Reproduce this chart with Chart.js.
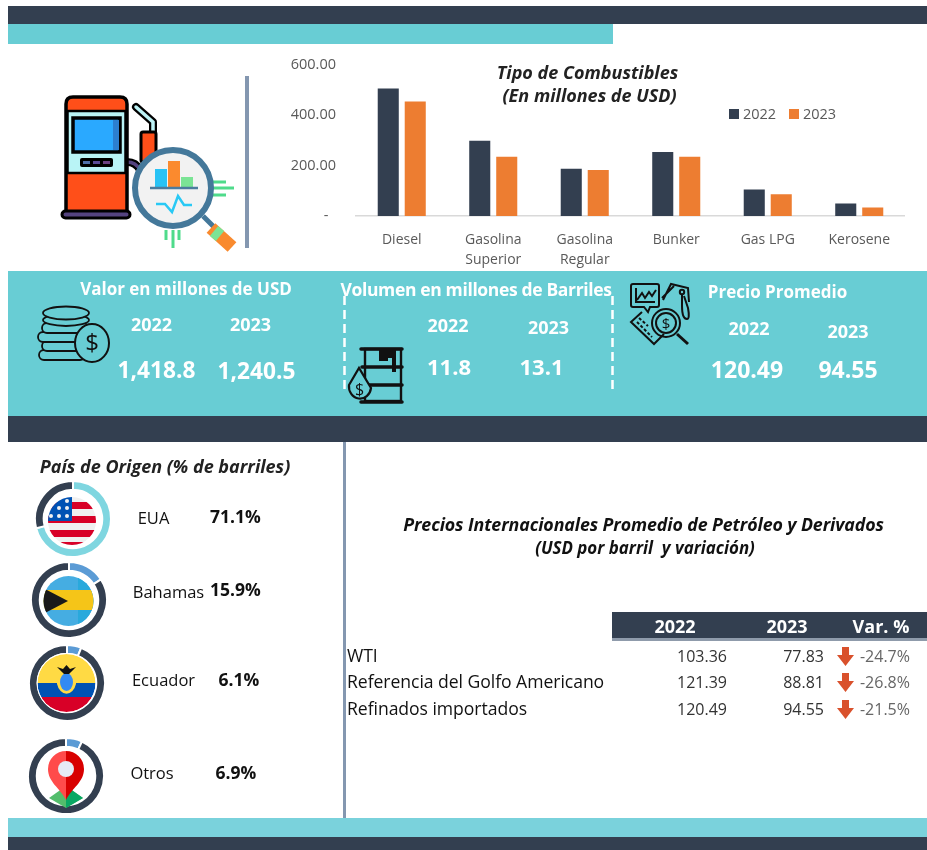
<!DOCTYPE html>
<html lang="es">
<head>
<meta charset="utf-8">
<title>Tipo de Combustibles</title>
<script src="https://cdn.jsdelivr.net/npm/chart.js@4"></script>
<style>
    html, body { margin: 0; padding: 0; background: #fff; }
    #page { position: relative; width: 927px; height: 850px; overflow: hidden; font-family: "Open Sans", "Noto Sans", sans-serif; }
    .box { position: absolute; }
    .txt { position: absolute; white-space: pre; transform: translate(-50%, -50%); line-height: 1; }
    .rt { transform: translate(-100%, -50%); }
    .lt { transform: translate(0, -50%); }
    canvas { position: absolute; }
    svg { position: absolute; left: 0; top: 0; }
</style>
</head>
<body>
<div id="page">
    <div class="box" style="left:8px;top:6px;width:919px;height:18px;background:#333f50"></div>
    <div class="box" style="left:8px;top:24px;width:605px;height:20px;background:#68cdd4"></div>
    <div class="box" style="left:245px;top:76px;width:4px;height:172px;background:#8497b0"></div>
    <div class="box" style="left:8px;top:271px;width:919px;height:145px;background:#68cdd4"></div>
    <div class="box" style="left:8px;top:416px;width:919px;height:26px;background:#333f50"></div>
    <div class="box" style="left:343px;top:442px;width:3px;height:376px;background:#8497b0"></div>
    <div class="box" style="left:8px;top:818px;width:919px;height:19px;background:#7ad2dc"></div>
    <div class="box" style="left:8px;top:837px;width:919px;height:13px;background:#333f50"></div>
    <div class="box" style="left:612px;top:612px;width:315px;height:26px;background:#333f50"></div>
    <div class="box" style="left:612px;top:638px;width:315px;height:3px;background:#8f9bab"></div>

    <canvas id="chart-fuel" width="625" height="240" style="left:280px;top:36px"></canvas>
    <canvas id="donut-0" width="78" height="78" style="left:34px;top:480px"></canvas>
    <canvas id="donut-1" width="78" height="78" style="left:30px;top:561px"></canvas>
    <canvas id="donut-2" width="78" height="78" style="left:28px;top:644px"></canvas>
    <canvas id="donut-3" width="78" height="78" style="left:27px;top:737px"></canvas>

    <svg width="927" height="850" viewBox="0 0 927 850">
        <defs>
            <clipPath id="c-usa"><circle cx="72" cy="521" r="24"/></clipPath>
            <clipPath id="c-bah"><circle cx="68.5" cy="601" r="25"/></clipPath>
            <clipPath id="c-ecu"><circle cx="66.5" cy="683" r="29"/></clipPath>
        </defs>

        <path d="M344.5 296 V391 M612.5 296 V391" stroke="#fff" stroke-width="2.5" stroke-dasharray="9 5"/>

        <!-- surtidor -->
        <path d="M136 107 L153 122 V135" fill="none" stroke="#000" stroke-width="8" stroke-linecap="round" stroke-linejoin="round"/>
        <path d="M136 107 L153 122 V133" fill="none" stroke="#bdf3f6" stroke-width="3.5" stroke-linecap="round"/>
        <rect x="141" y="132" width="15" height="30" rx="2" fill="#ff4f19" stroke="#000" stroke-width="3"/>
        <path d="M127 162 Q136 162 140 170" fill="none" stroke="#000" stroke-width="8"/>
        <path d="M127 162 Q136 162 140 170" fill="none" stroke="#54437f" stroke-width="3.5"/>
        <path d="M66 212 V104 Q66 97 73 97 H120 Q127 97 127 104 V212 Z" fill="#ff4f19" stroke="#000" stroke-width="3.5"/>
        <rect x="67.5" y="111" width="58" height="62" fill="#b9f4f6" stroke="#000" stroke-width="2.5"/>
        <rect x="73" y="118" width="47" height="34" fill="#2aa9ff" stroke="#000" stroke-width="3.5"/>
        <rect x="113" y="120" width="6" height="30" fill="#2c7fd0"/>
        <rect x="80" y="158" width="33" height="9" rx="2" fill="#000"/>
        <rect x="83" y="161" width="7" height="3" fill="#4f6ea8"/>
        <rect x="93" y="161" width="7" height="3" fill="#5a4a95"/>
        <rect x="103" y="161" width="7" height="3" fill="#6a3f80"/>
        <rect x="62" y="211" width="68" height="7" rx="3.5" fill="#54437f" stroke="#000" stroke-width="3"/>
        <path d="M166 230 V240 M173 230 V248 M179 230 V240" stroke="#4fdb8b" stroke-width="3"/>
        <path d="M213 182 H226 M213 188 H234 M213 195 H226" stroke="#4fdb8b" stroke-width="3"/>
        <path d="M203 216 L214 227" stroke="#44789a" stroke-width="5"/>
        <path d="M211 228 L232 247" stroke="#f98a2e" stroke-width="13"/>
        <path d="M214 231 L220 236" stroke="#7be495" stroke-width="13"/>
        <circle cx="173" cy="188" r="38" fill="#f2f2f2" stroke="#44789a" stroke-width="6"/>
        <rect x="155" y="169" width="12" height="18" fill="#29c3f5"/>
        <rect x="168" y="161" width="12" height="26" fill="#fb8a2e"/>
        <rect x="181" y="177" width="12" height="10" fill="#7be495"/>
        <path d="M150 188 H198" stroke="#4c7c9e" stroke-width="2.5"/>
        <path d="M156 204 H165 L172 212 L178 196 L184 205 H192" fill="none" stroke="#29c9f5" stroke-width="2.5"/>

        <!-- monedas -->
        <g fill="#68cdd4" stroke="#111" stroke-width="1.8">
            <rect x="39" y="350" width="46" height="10" rx="5"/>
            <rect x="42" y="341" width="46" height="10" rx="5"/>
            <rect x="38" y="332" width="46" height="10" rx="5"/>
            <rect x="42" y="323" width="46" height="10" rx="5"/>
            <ellipse cx="66" cy="320" rx="23" ry="6"/>
            <ellipse cx="66" cy="313" rx="23" ry="6.5"/>
            <ellipse cx="92" cy="343" rx="17" ry="19" stroke-width="2"/>
        </g>
        <text x="92" y="351" text-anchor="middle" font-size="24" fill="#111" font-family="Open Sans">$</text>

        <!-- barril -->
        <g fill="#68cdd4" stroke="#111" stroke-width="2.4">
            <rect x="365" y="349" width="36" height="52"/>
            <path d="M361 349 H402 M362 367 H402 M362 385 H402 M361 402 H402" stroke-width="3.5" stroke-linecap="round"/>
            <path d="M349 385 L359 368 L371 388 A11 12 0 1 1 349 385Z" stroke-width="2.2"/>
        </g>
        <path d="M379 349 H396 V372 H392 V358 H388 V361 H379Z" fill="#111"/>
        <text x="359.5" y="395" text-anchor="middle" font-size="16" fill="#111" font-family="Open Sans">$</text>

        <!-- analisis de precios -->
        <g fill="none" stroke="#111" stroke-width="2">
            <path d="M633 284 H657 Q659 284 659 286 V305 Q659 307 657 307 H650 L648 312 L644 307 H633 Q631 307 631 305 V286 Q631 284 633 284Z"/>
            <path d="M636 288 V302 H655 M637 300 L642 293 L645 298 L649 292 L652 296 L656 290"/>
            <path d="M663 300 L671 284 L688 288 L689 302 M662 298 L674 286"/>
            <circle cx="682" cy="292" r="2.2"/>
            <path d="M682 295 V306 Q682 319 687 319 Q690 319 688 308 L684 296"/>
            <path d="M642 312 L631 322 L654 344 L664 334"/>
            <path d="M639 318 L648 326 M637 322 L652 337" stroke-dasharray="3 2"/>
            <circle cx="666" cy="323" r="14"/>
            <circle cx="666" cy="323" r="10"/>
            <path d="M677 334 L688 344" stroke-width="3"/>
        </g>
        <text x="666" y="329" text-anchor="middle" font-size="15" fill="#111" font-family="Open Sans">$</text>

        <!-- banderas -->
        <g clip-path="url(#c-usa)">
            <rect x="48" y="497" width="48" height="48" fill="#f0f0f0"/>
            <path d="M48 502 H96 V509 H48Z M48 516 H96 V523 H48Z M48 530 H96 V537 H48Z M48 542 H96 V546 H48Z" fill="#d80027"/>
            <rect x="48" y="497" width="24" height="24" fill="#0052b4"/>
            <g fill="#f0f0f0">
                <circle cx="67" cy="501" r="2"/><circle cx="59" cy="508" r="2"/><circle cx="67" cy="508" r="2"/>
                <circle cx="51" cy="516" r="2"/><circle cx="59" cy="516" r="2"/><circle cx="67" cy="516" r="2"/>
            </g>
        </g>
        <g clip-path="url(#c-bah)">
            <rect x="43" y="576" width="51" height="50" fill="#45ade2"/>
            <rect x="78" y="576" width="16" height="50" fill="#29a9dc"/>
            <rect x="43" y="590" width="51" height="20" fill="#f5c518"/>
            <path d="M43 588 L68 601 L43 614Z" fill="#1a1a1a"/>
        </g>
        <g clip-path="url(#c-ecu)">
            <rect x="37" y="654" width="60" height="29" fill="#ffda44"/>
            <rect x="37" y="683" width="60" height="14" fill="#0052b4"/>
            <rect x="37" y="697" width="60" height="16" fill="#d80027"/>
        </g>
        <circle cx="66.5" cy="683" r="29.5" fill="none" stroke="#fff" stroke-width="1"/>
        <path d="M57 684 V683 H76 V684 A10 14 0 0 1 57 684Z" fill="#ffda44"/>
        <ellipse cx="66.5" cy="682" rx="6.5" ry="9" fill="#338af3"/>
        <path d="M57 667 L63 669 L66.5 665 L70 669 L76 667 L71 672 L69 674 H64 L62 672Z" fill="#111"/>

        <!-- otros -->
        <path d="M49 798 L66 786 L83 798 L66 808Z" fill="#53bd6c"/>
        <path d="M66 786 L83 798 L66 808Z" fill="#0aa864"/>
        <path d="M66 800 C60 788 48 782 48 769 A18 18 0 0 1 66 751Z" fill="#ff4b4b"/>
        <path d="M66 800 C72 788 84 782 84 769 A18 18 0 0 0 66 751Z" fill="#d80000"/>
        <circle cx="66" cy="769" r="8" fill="#e6ebf5"/>

        <!-- flechas de variacion -->
        <g id="arrows" fill="#d9512c"></g>
    </svg>
</div>

<script>
// Datos
const categories = ['Diesel', ['Gasolina', 'Superior'], ['Gasolina', 'Regular'], 'Bunker', 'Gas LPG', 'Kerosene'];
const values2022 = [505, 298, 187, 254, 105, 50];
const values2023 = [454, 235, 182, 235, 86, 34];
const yTicks = [0, 200, 400, 600];

const years = ['2022', '2023'];
const valorUsd = ['1,418.8', '1,240.5'];
const volumen = ['11.8', '13.1'];
const precio = ['120.49', '94.55'];

const paises = ['EUA', 'Bahamas', 'Ecuador', 'Otros'];
const paisPct = [71.1, 15.9, 6.1, 6.9];

const tablaFilas = ['WTI', 'Referencia del Golfo Americano', 'Refinados importados'];
const tabla2022 = ['103.36', '121.39', '120.49'];
const tabla2023 = ['77.83', '88.81', '94.55'];
const tablaVar = ['-24.7%', '-26.8%', '-21.5%'];

const NAVY = '#333f50';
const ORANGE = '#ed7d31';
const page = document.getElementById('page');

function put(text, x, y, size, opts) {
    opts = opts || {};
    const el = document.createElement('div');
    el.className = 'txt ' + (opts.cls || '');
    el.textContent = text;
    el.style.left = x + 'px';
    el.style.top = y + 'px';
    el.style.fontSize = size + 'px';
    el.style.fontWeight = opts.bold ? '700' : '400';
    el.style.fontStyle = opts.italic ? 'italic' : 'normal';
    el.style.color = opts.color || '#000';
    if (opts.spacing) el.style.letterSpacing = opts.spacing + 'px';
    page.appendChild(el);
}

// ── Grafico de barras ────────────────────────────────────
Chart.defaults.font.family = '"Open Sans", "Noto Sans", sans-serif';
Chart.defaults.animation = false;

new Chart(document.getElementById('chart-fuel'), {
    type: 'bar',
    data: {
        labels: categories,
        datasets: [
            { label: years[0], data: values2022, backgroundColor: NAVY, barPercentage: 0.78, categoryPercentage: 0.59 },
            { label: years[1], data: values2023, backgroundColor: ORANGE, barPercentage: 0.78, categoryPercentage: 0.59 }
        ]
    },
    options: {
        responsive: false,
        plugins: { legend: { display: false }, tooltip: { enabled: false } },
        scales: {
            x: {
                grid: { display: false },
                border: { color: '#d9d9d9', width: 1.5 },
                ticks: { color: '#595959', font: { size: 14, lineHeight: 1.43 }, padding: 6, maxRotation: 0, autoSkip: false },
                afterFit: s => { s.height = 60; }
            },
            y: {
                // tope del eje algo mayor que 600 para dejar el margen superior de la imagen
                min: 0, max: 631,
                grid: { display: false },
                border: { display: false },
                afterBuildTicks: s => { s.ticks = yTicks.map(v => ({ value: v })); },
                ticks: {
                    color: '#595959', font: { size: 14.5 }, padding: 12,
                    callback: v => v === 0 ? '-  ' : v.toFixed(2)
                },
                afterFit: s => { s.width = 76; }
            }
        }
    }
});

// Titulo y leyenda del grafico
put('Tipo de Combustibles', 587.5, 72, 18, { bold: true, italic: true, color: '#222' });
put('(En millones de USD)', 589.5, 95, 18, { bold: true, italic: true, color: '#222' });
[[729, NAVY, 743], [789, ORANGE, 803]].forEach((l, i) => {
    const sw = document.createElement('div');
    sw.className = 'box';
    sw.style.cssText = 'left:' + l[0] + 'px;top:109px;width:10px;height:10px;background:' + l[1];
    page.appendChild(sw);
    put(years[i], l[2], 114, 14.5, { cls: 'lt', color: '#595959' });
});

// ── Indicadores ──────────────────────────────────────────
const kpi = { bold: true, color: '#fff' };
put('Valor en millones de USD', 186, 288, 17, kpi);
put(years[0], 151.5, 324, 18, kpi);
put(years[1], 250.5, 324, 18, kpi);
put(valorUsd[0], 156.5, 370, 22.7, kpi);
put(valorUsd[1], 256.5, 371, 22.7, kpi);

put('Volumen en millones de Barriles', 476, 290, 17.5, { bold: true, color: '#fff', spacing: -0.35 });
put(years[0], 448, 325, 18, kpi);
put(years[1], 548.5, 327, 18, kpi);
put(volumen[0], 449, 366, 22, kpi);
put(volumen[1], 541.5, 366, 22, kpi);

put('Precio Promedio', 777.5, 291, 17, kpi);
put(years[0], 749, 328, 18, kpi);
put(years[1], 848, 331, 18, kpi);
put(precio[0], 747, 369, 23, kpi);
put(precio[1], 848, 369, 23, kpi);

// ── Pais de origen ───────────────────────────────────────
put('País de Origen (% de barriles)', 165, 466, 18, { bold: true, italic: true, color: '#222' });

const donutColors = ['#7fd6e0', '#5b9bd5', '#5b9bd5', '#5b9bd5'];
paisPct.forEach((pct, i) => {
    new Chart(document.getElementById('donut-' + i), {
        type: 'doughnut',
        data: {
            labels: [paises[i], 'Resto'],
            datasets: [{
                data: [pct, 100 - pct],
                backgroundColor: [donutColors[i], NAVY],
                borderColor: '#fff', borderWidth: 2
            }]
        },
        options: {
            responsive: false, cutout: '77%',
            plugins: { legend: { display: false }, tooltip: { enabled: false } }
        }
    });
});

const paisX = [153.5, 168.5, 163.5, 152];
const paisY = [518, 592, 680, 773];
const pctX = [235.5, 235.5, 239, 236];
const pctY = [517, 590, 680, 773];
paises.forEach((p, i) => {
    put(p, paisX[i], paisY[i], 16.5, { color: '#111' });
    put(paisPct[i].toFixed(1) + '%', pctX[i], pctY[i], 17.5, { bold: true, color: '#111' });
});

// ── Precios internacionales ──────────────────────────────
put('Precios Internacionales Promedio de Petróleo y Derivados', 643.5, 525, 17.8, { bold: true, italic: true, color: '#111', spacing: -0.1 });
put('(USD por barril  y variación)', 645, 548, 16.9, { bold: true, italic: true, color: '#111' });

put(years[0], 675, 626, 18, kpi);
put(years[1], 787, 626, 18, kpi);
put('Var. %', 881, 626, 18, kpi);

const rowY = [656, 682, 709];
tablaFilas.forEach((f, i) => {
    const y = rowY[i];
    put(f, 347, y, 17.6, { cls: 'lt', color: '#111', spacing: -0.05 });
    put(tabla2022[i], 727, y, 16, { cls: 'rt', color: '#333' });
    put(tabla2023[i], 824, y, 16, { cls: 'rt', color: '#333' });
    put(tablaVar[i], 910, y, 16, { cls: 'rt', color: '#666' });
    const arrow = document.createElementNS('http://www.w3.org/2000/svg', 'path');
    arrow.setAttribute('d', 'M842 ' + (y - 9) + ' H849 V' + (y - 1) + ' H854 L845.5 ' + (y + 10) + ' L837 ' + (y - 1) + ' H842 Z');
    document.getElementById('arrows').appendChild(arrow);
});
</script>
</body>
</html>
